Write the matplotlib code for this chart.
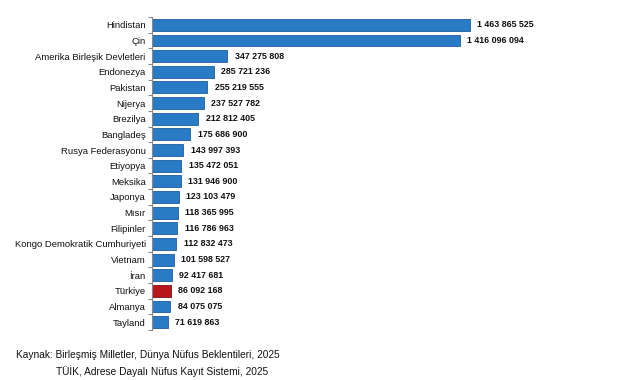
import numpy as np
import matplotlib
matplotlib.use("Agg")
import matplotlib.pyplot as plt

plt.rcParams['font.family'] = ['Liberation Sans', 'DejaVu Sans']

# Ülkeler ve nüfus (2025)
countries = [
    "Hindistan", "Çin", "Amerika Birleşik Devletleri", "Endonezya", "Pakistan",
    "Nijerya", "Brezilya", "Bangladeş", "Rusya Federasyonu", "Etiyopya",
    "Meksika", "Japonya", "Mısır", "Filipinler", "Kongo Demokratik Cumhuriyeti",
    "Vietnam", "İran", "Türkiye", "Almanya", "Tayland",
]
population = [
    1463865525, 1416096094, 347275808, 285721236, 255219555,
    237527782, 212812405, 175686900, 143997393, 135472051,
    131946900, 123103479, 118365995, 116786963, 112832473,
    101598527, 92417681, 86092168, 84075075, 71619863,
]
highlight = "Türkiye"

BLUE = "#2a7bc6"
RED = "#b8161b"

fig = plt.figure(figsize=(6.41, 3.80), dpi=100)
ax = fig.add_axes([0.2371, 0.1316, 0.730, 0.8237])

y = np.arange(len(countries))
colors = [RED if c == highlight else BLUE for c in countries]
edges = ["#7a0e10" if c == highlight else "#1d5e9c" for c in countries]
ax.barh(y, population, height=0.76, color=colors, edgecolor=edges, linewidth=0.6)

for yi, v in zip(y, population):
    lbl = f"{v:,}".replace(",", " ")
    ax.text(v + 3.4e7, yi, lbl, va="center", ha="left", fontsize=6.4,
            fontweight="bold", color="#111111")

ax.set_ylim(len(countries) - 0.5, -0.5)
ax.set_xlim(0, 2.154e9)
ax.set_yticks(y)
ax.set_yticklabels(countries, fontsize=6.8, color="#111111")
ax.set_yticks(np.arange(-0.5, len(countries), 1), minor=True)
ax.tick_params(axis="y", which="major", length=0, pad=4.5)
ax.tick_params(axis="y", which="minor", length=3, color="#888888", width=0.8)
ax.set_xticks([])
for s in ["top", "right", "bottom"]:
    ax.spines[s].set_visible(False)
ax.spines["left"].set_color("#888888")
ax.spines["left"].set_linewidth(0.8)

fig.text(16 / 641, 1 - 355 / 380, "Kaynak: Birleşmiş Milletler, Dünya Nüfus Beklentileri, 2025",
         fontsize=7.3, va="center", ha="left", color="#111111")
fig.text(56 / 641, 1 - 371 / 380, "TÜİK, Adrese Dayalı Nüfus Kayıt Sistemi, 2025",
         fontsize=7.3, va="center", ha="left", color="#111111")

fig.savefig("out.png", dpi=100)
